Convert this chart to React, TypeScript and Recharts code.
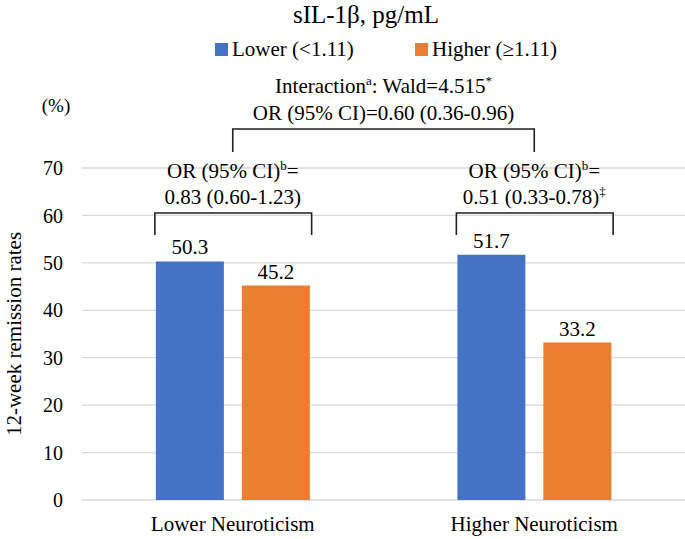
import React from "react";
import { BarChart, Bar, XAxis, YAxis, CartesianGrid, LabelList } from "recharts";

const categories = ["Lower Neuroticism", "Higher Neuroticism"];
const lowerIL = [50.3, 51.7];
const higherIL = [45.2, 33.2];
const yTicks = [0, 10, 20, 30, 40, 50, 60, 70];
const seriesNames = ["Lower (<1.11)", "Higher (\u22651.11)"];
const groupOR = [
  ["0.83 (0.60-1.23)", ""],
  ["0.51 (0.33-0.78)", "\u2021"],
];

const data = categories.map((c, i) => ({ name: c, lower: lowerIL[i], higher: higherIL[i] }));

const W = 685;
const H = 539;
const M = { top: 168, right: 0, bottom: 0, left: 0 };
const Y_W = 82;
const X_H = 39;
const CAT_GAP = 0.245;
const BAR_GAP = 18;
const FONT = "'Liberation Serif', 'Times New Roman', serif";
const BLUE = "#4472C4";
const ORANGE = "#ED7D31";
const FS = 21;

const plotLeft = M.left + Y_W;
const plotRight = W - M.right;
const band = (plotRight - plotLeft) / categories.length;
const gapPx = band * CAT_GAP;
const barW = (band - 2 * gapPx - BAR_GAP) / 2;

function Overlay() {
  const centers = categories.map((_, i) => plotLeft + band * (i + 0.5));
  const bracket = (x1: number, x2: number, y: number, h: number, key: string) => (
    <path key={key} d={`M${x1},${y + h} L${x1},${y} L${x2},${y} L${x2},${y + h}`} fill="none" stroke="#222" strokeWidth={1.6} />
  );
  const mid = (centers[0] + centers[1]) / 2;
  return (
    <svg width={W} height={H} style={{ position: "absolute", left: 0, top: 0, pointerEvents: "none" }} fontFamily={FONT}>
      <text x={366} y={23} textAnchor="middle" fontSize={25} fill="#000">sIL-1β, pg/mL</text>
      <rect x={215} y={43} width={13} height={13} fill={BLUE} />
      <text x={232} y={56} fontSize={FS} fill="#000">{seriesNames[0]}</text>
      <rect x={415} y={43} width={13} height={13} fill={ORANGE} />
      <text x={432} y={56} fontSize={FS} fill="#000">{seriesNames[1]}</text>
      <text x={mid} y={93} textAnchor="middle" fontSize={FS} fill="#000">
        Interaction<tspan fontSize={13} dy={-8}>a</tspan><tspan dy={8}>: Wald=4.515</tspan><tspan fontSize={13} dy={-8}>*</tspan>
      </text>
      <text x={mid} y={120} textAnchor="middle" fontSize={FS} fill="#000">OR (95% CI)=0.60 (0.36-0.96)</text>
      {bracket(centers[0], centers[1], 129, 23, "top")}
      <text x={56} y={112} textAnchor="middle" fontSize={19} fill="#000">(%)</text>
      <text transform={`translate(21, 334) rotate(-90)`} textAnchor="middle" fontSize={FS} fill="#000">12-week remission rates</text>
      {centers.map((c, i) => {
        const x1 = c - BAR_GAP / 2 - barW - 1;
        const x2 = c + BAR_GAP / 2 + barW + 2;
        return (
          <g key={i}>
            <text x={c} y={178} textAnchor="middle" fontSize={FS} fill="#000">
              OR (95% CI)<tspan fontSize={13} dy={-8}>b</tspan><tspan dy={8}>=</tspan>
            </text>
            <text x={c} y={204} textAnchor="middle" fontSize={FS} fill="#000">
              {groupOR[i][0]}
              {groupOR[i][1] ? <tspan fontSize={13} dy={-8}>{groupOR[i][1]}</tspan> : null}
            </text>
            {bracket(x1, x2, 213, 22, "b" + i)}
          </g>
        );
      })}
    </svg>
  );
}

export default function App() {
  return (
    <div style={{ position: "absolute", left: 0, top: 0, width: W, height: H, background: "#fff", fontFamily: FONT }}>
      <BarChart width={W} height={H} data={data} margin={M} barCategoryGap={`${CAT_GAP * 100}%`} barGap={BAR_GAP}>
        <CartesianGrid vertical={false} stroke="#d9d9d9" strokeWidth={1.3} />
        <XAxis
          dataKey="name"
          height={X_H}
          axisLine={false}
          tickLine={false}
          tickSize={0}
          tickMargin={16}
          tick={{ fontSize: FS, fill: "#000", fontFamily: FONT }}
        />
        <YAxis
          width={Y_W}
          domain={[0, 70]}
          ticks={yTicks}
          interval={0}
          axisLine={false}
          tickLine={false}
          tickSize={0}
          tickMargin={19}
          tick={{ fontSize: 20, fill: "#000", fontFamily: FONT }}
        />
        <Bar dataKey="lower" fill={BLUE} isAnimationActive={false}>
          <LabelList dataKey="lower" position="top" offset={7} style={{ fontSize: FS, fill: "#000", fontFamily: FONT }} />
        </Bar>
        <Bar dataKey="higher" fill={ORANGE} isAnimationActive={false}>
          <LabelList dataKey="higher" position="top" offset={7} style={{ fontSize: FS, fill: "#000", fontFamily: FONT }} />
        </Bar>
      </BarChart>
      <Overlay />
    </div>
  );
}
